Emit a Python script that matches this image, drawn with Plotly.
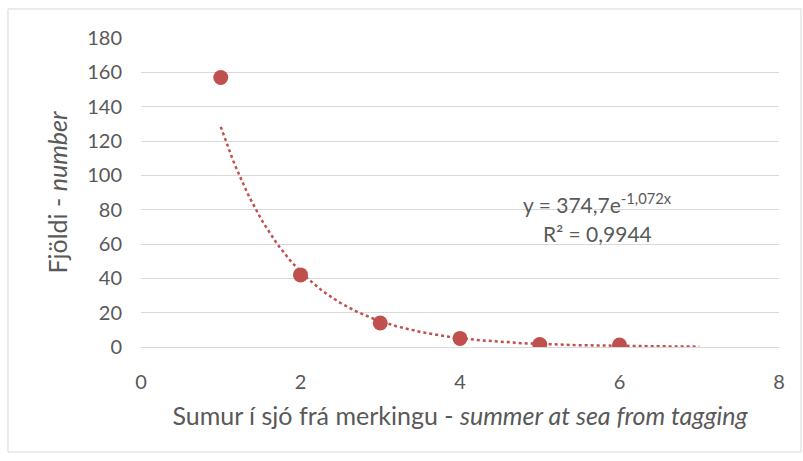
import numpy as np
import plotly.graph_objects as go

summers = [1, 2, 3, 4, 5, 6]
counts = [157, 42, 14, 5, 1.5, 1.2]
trend_a = 374.7
trend_b = -1.072
trend_x_range = [1, 7]
y_ticks = [0, 20, 40, 60, 80, 100, 120, 140, 160, 180]
x_ticks = [0, 2, 4, 6, 8]

RED = "#C0504D"
FONT = "Lato, Open Sans, sans-serif"
GREY_TXT = "#595959"

tx = np.linspace(trend_x_range[0], trend_x_range[1], 200)
ty = trend_a * np.exp(trend_b * tx)

fig = go.Figure()
fig.add_trace(go.Scatter(x=tx, y=ty, mode="lines",
                         line=dict(color=RED, width=2.5, dash="dot"),
                         hoverinfo="skip", showlegend=False))
fig.add_trace(go.Scatter(x=summers, y=counts, mode="markers",
                         marker=dict(color=RED, size=15),
                         showlegend=False))

fig.add_annotation(x=5.73, y=84, xref="x", yref="y",
                   text="y = 374,7e<sup>-1,072x</sup>", showarrow=False,
                   font=dict(family=FONT, size=21, color=GREY_TXT))
fig.add_annotation(x=5.73, y=66, xref="x", yref="y",
                   text="R² = 0,9944", showarrow=False,
                   font=dict(family=FONT, size=21, color=GREY_TXT))

# outer chart border
fig.add_shape(type="rect", xref="paper", yref="paper",
              x0=-0.2085, x1=1.0345, y0=-0.34, y1=1.094,
              line=dict(color="#D9D9D9", width=1), layer="below")

fig.update_layout(
    width=803, height=461,
    margin=dict(l=141, r=24, t=38, b=114),
    paper_bgcolor="white", plot_bgcolor="white",
    font=dict(family=FONT, color=GREY_TXT),
    xaxis=dict(range=[0, 8], tickvals=x_ticks, showgrid=False, zeroline=False,
               showline=False, ticks="", tickfont=dict(size=20, color=GREY_TXT),
               ticklabelstandoff=21,
               title=dict(text="Sumur í sjó frá merkingu - <i>summer at sea from tagging</i>",
                          font=dict(size=25, color=GREY_TXT), standoff=15)),
    yaxis=dict(range=[0, 180], tickvals=y_ticks, showgrid=True, gridcolor="#D9D9D9",
               gridwidth=1, zeroline=True, zerolinecolor="#D9D9D9", zerolinewidth=1,
               showline=False, ticks="", tickfont=dict(size=20, color=GREY_TXT),
               ticklabelstandoff=18,
               title=dict(text="Fjöldi - <i>number</i>",
                          font=dict(size=25, color=GREY_TXT), standoff=12)),
)

fig.write_html("out.html")
